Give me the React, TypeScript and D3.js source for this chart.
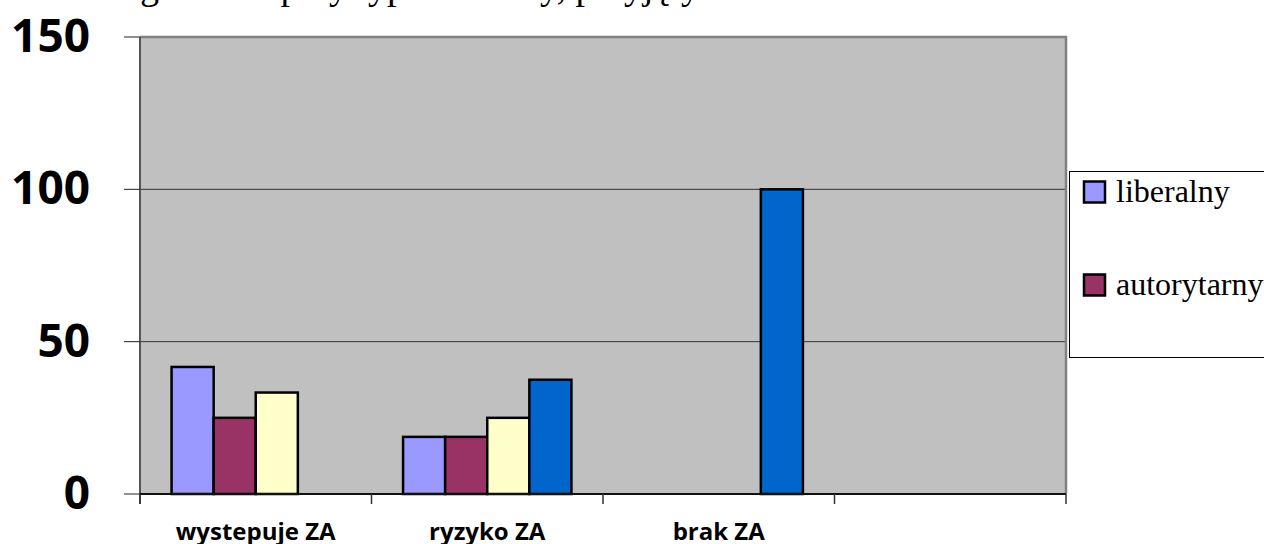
import React from 'react';
import * as d3 from 'd3';

// chart data
const categories = ['wystepuje ZA', 'ryzyko ZA', 'brak ZA', ''];
const seriesNames = ['liberalny', 'autorytarny', 'demokratyczny', 'niekonsekwentny'];
const seriesColors = ['#9999FF', '#993366', '#FFFFCC', '#0066CC'];
const liberalny = [41.7, 18.75, 0, 0];
const autorytarny = [25, 18.75, 0, 0];
const demokratyczny = [33.3, 25, 0, 0];
const niekonsekwentny = [0, 37.5, 100, 0];
const yTicks = [0, 50, 100, 150];
const titleText = 'Zagrożenie przy typie rodziny, przyjęty';

const seriesValues = [liberalny, autorytarny, demokratyczny, niekonsekwentny];

const W = 1264;
const H = 544;
const plot = { left: 140, right: 1066, top: 37, bottom: 494 };
const legendBox = { x: 1069.5, y: 171.5, w: 300, h: 186 };

export default function App() {
  const x = d3.scaleBand<number>()
    .domain(categories.map((_, i) => i))
    .range([plot.left, plot.right])
    .padding(0);

  const xInner = d3.scaleBand<string>()
    .domain(seriesNames)
    .range([0, x.bandwidth()])
    .paddingInner(0)
    .paddingOuter(0.75);

  const y = d3.scaleLinear()
    .domain([0, 150])
    .range([plot.bottom, plot.top]);

  const boundaries = categories.map((_, i) => x(i) as number).concat([plot.right]);

  return (
    <div style={{ position: 'absolute', left: 0, top: 0 }}>
      <svg width={W} height={H} style={{ display: 'block', background: '#fff' }}>
        <defs>
          <clipPath id="legendClip">
            <rect x={legendBox.x - 1} y={legendBox.y - 1} width={legendBox.w + 2} height={legendBox.h + 2} />
          </clipPath>
        </defs>

        {/* title line, mostly above the picture as in the original */}
        <text x={100} y={-1} fontFamily="Liberation Serif" fontSize={38} fill="#000">
          {titleText}
        </text>

        {/* plot area */}
        <rect x={plot.left} y={plot.top} width={plot.right - plot.left} height={plot.bottom - plot.top} fill="#C0C0C0" />

        {/* grid lines */}
        {yTicks.filter(t => t > 0 && t < 150).map(t => (
          <line key={'g' + t} x1={plot.left} x2={plot.right} y1={y(t)} y2={y(t)} stroke="#333" strokeWidth={1} />
        ))}

        {/* plot border (top, right) */}
        <path
          d={`M${plot.left},${plot.top} H${plot.right} V${plot.bottom}`}
          fill="none"
          stroke="#808080"
          strokeWidth={2.5}
        />

        {/* bars */}
        {categories.map((cat, ci) =>
          seriesNames.map((s, si) => {
            const v = seriesValues[si][ci];
            if (!v) return null;
            const bx = (x(ci) as number) + (xInner(s) as number);
            return (
              <rect
                key={cat + s}
                x={bx}
                y={y(v)}
                width={xInner.bandwidth()}
                height={y(0) - y(v)}
                fill={seriesColors[si]}
                stroke="#000"
                strokeWidth={2.5}
              />
            );
          })
        )}

        {/* y axis */}
        <line x1={plot.left} x2={plot.left} y1={plot.top} y2={plot.bottom + 10} stroke="#555" strokeWidth={2} />
        {yTicks.map(t => (
          <g key={'yt' + t}>
            <line x1={124} x2={plot.left} y1={y(t)} y2={y(t)} stroke="#222" strokeWidth={1} />
            <text
              x={90}
              y={y(t) - 3}
              textAnchor="end"
              dominantBaseline="central"
              fontFamily="Open Sans"
              fontWeight="bold"
              fontSize={46}
              fill="#000"
            >
              {t}
            </text>
          </g>
        ))}

        {/* x axis */}
        <line x1={plot.left} x2={plot.right} y1={plot.bottom} y2={plot.bottom} stroke="#111" strokeWidth={2} />
        {boundaries.map((b, i) => (
          <line key={'xt' + i} x1={b} x2={b} y1={plot.bottom} y2={plot.bottom + 10} stroke="#333" strokeWidth={1.5} />
        ))}
        {categories.map((c, i) => (
          <text
            key={'xl' + i}
            x={(x(i) as number) + x.bandwidth() / 2}
            y={540}
            textAnchor="middle"
            fontFamily="Open Sans"
            fontWeight="bold"
            fontSize={24}
            fill="#000"
          >
            {c}
          </text>
        ))}

        {/* legend, clipped like the original */}
        <g clipPath="url(#legendClip)">
          <rect x={legendBox.x} y={legendBox.y} width={legendBox.w} height={legendBox.h} fill="#fff" stroke="#000" strokeWidth={1} />
          {seriesNames.map((s, i) => {
            const cy = 191.5 + i * 93;
            return (
              <g key={'lg' + s}>
                <rect x={1084} y={cy - 10} width={21} height={21} fill={seriesColors[i]} stroke="#000" strokeWidth={2.5} />
                <text x={1116} y={cy + 10} fontFamily="Liberation Serif" fontSize={32} fill="#000">
                  {s}
                </text>
              </g>
            );
          })}
        </g>
      </svg>
    </div>
  );
}
